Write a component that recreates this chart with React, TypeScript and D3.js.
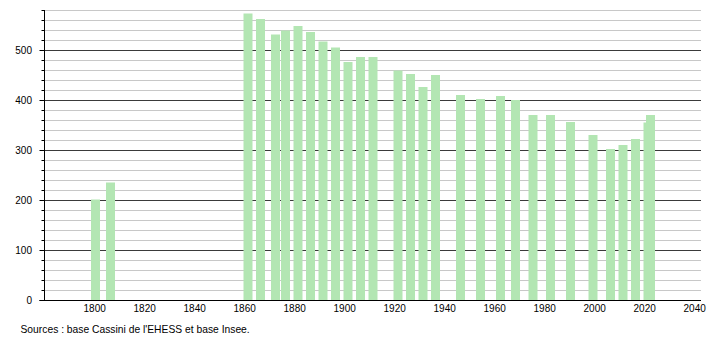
import React from "react";
import * as d3 from "d3";

const years = [1800, 1806, 1861, 1866, 1872, 1876, 1881, 1886, 1891, 1896, 1901, 1906, 1911, 1921, 1926, 1931, 1936, 1946, 1954, 1962, 1968, 1975, 1982, 1990, 1999, 2006, 2011, 2016, 2021, 2022];
const population = [201, 235, 573, 562, 531, 539, 548, 536, 517, 505, 476, 486, 486, 459, 452, 426, 450, 410, 402, 408, 400, 370, 370, 356, 330, 302, 310, 322, 355, 370];
const xTicks = [1800, 1820, 1840, 1860, 1880, 1900, 1920, 1940, 1960, 1980, 2000, 2020, 2040];
const yTicks = [0, 100, 200, 300, 400, 500];
const sourceText = "Sources : base Cassini de l'EHESS et base Insee.";

const W = 710;
const H = 340;
const font = "'Liberation Sans', Arial, sans-serif";

export default function App() {
  const x = d3.scaleLinear().domain([1780, 2042]).range([44.7, 699.7]);
  const y = d3.scaleLinear().domain([0, 580]).range([300, 10]);
  const minor = d3.range(20, 581, 20).filter((v) => v % 100 !== 0);
  const axisX = 44.5;
  const barW = 9;

  return (
    <svg width={W} height={H} style={{ position: "absolute", left: 0, top: 0, background: "#fff" }}>
      <rect x={0} y={0} width={W} height={H} fill="#fff" />
      {minor.map((v) => (
        <g key={"m" + v}>
          <line x1={axisX} x2={701} y1={Math.round(y(v)) + 0.5} y2={Math.round(y(v)) + 0.5} stroke="#c8c8c8" strokeWidth={1} />
          <line x1={axisX - 3} x2={axisX} y1={Math.round(y(v)) + 0.5} y2={Math.round(y(v)) + 0.5} stroke="#000" strokeWidth={1} />
        </g>
      ))}
      {yTicks.filter((v) => v > 0).map((v) => (
        <line key={"M" + v} x1={axisX} x2={701} y1={Math.round(y(v)) + 0.5} y2={Math.round(y(v)) + 0.5} stroke="#3a3a3a" strokeWidth={1} />
      ))}
      {years.map((yr, i) => (
        <rect
          key={yr}
          x={x(yr) - 3.7}
          y={y(population[i])}
          width={barW}
          height={y(0) - y(population[i])}
          fill="#b3e6b3"
        />
      ))}
      <line x1={axisX} x2={axisX} y1={10} y2={300.5} stroke="#000" strokeWidth={1} />
      <line x1={axisX - 5} x2={701} y1={300.5} y2={300.5} stroke="#000" strokeWidth={1} />
      {yTicks.map((v) => (
        <g key={"t" + v}>
          <line x1={axisX - 5} x2={axisX} y1={Math.round(y(v)) + 0.5} y2={Math.round(y(v)) + 0.5} stroke="#000" strokeWidth={1} />
          <text x={32} y={y(v)} dy="0.35em" textAnchor="end" fontFamily={font} fontSize={10} fill="#000">
            {v}
          </text>
        </g>
      ))}
      {xTicks.map((t) => (
        <text key={"x" + t} x={x(t)} y={312} textAnchor="middle" fontFamily={font} fontSize={10} fill="#000">
          {t}
        </text>
      ))}
      <text x={20.5} y={333} fontFamily={font} fontSize={10.3} fill="#000">
        {sourceText}
      </text>
    </svg>
  );
}
